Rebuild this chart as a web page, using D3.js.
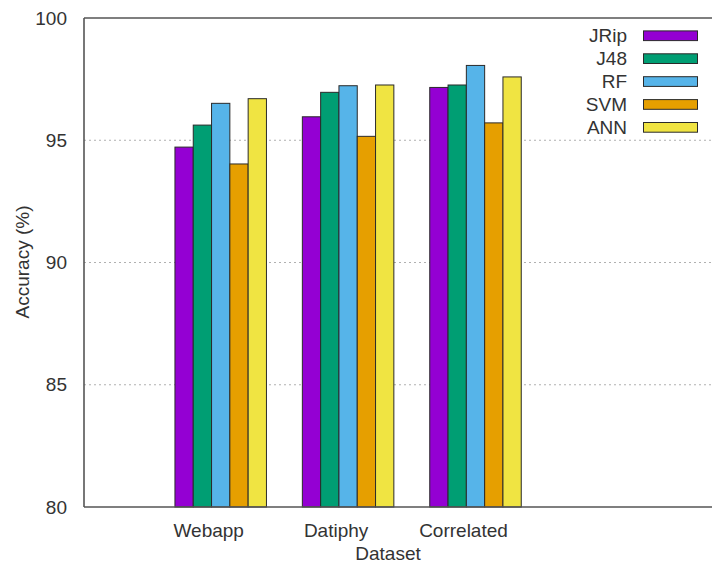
<!DOCTYPE html>
<html>
<head>
<meta charset="utf-8">
<script src="https://cdn.jsdelivr.net/npm/d3@7"></script>
<style>
  html, body { margin: 0; padding: 0; background: #fff; }
  svg { display: block; }
  text { font-family: "Liberation Sans", Arial, sans-serif; fill: #333; }
</style>
</head>
<body>
<svg id="chart" width="712" height="566"></svg>
<script>
const categories = ["Webapp", "Datiphy", "Correlated"];
const seriesNames = ["JRip", "J48", "RF", "SVM", "ANN"];
const seriesColors = ["#9400d3", "#009e73", "#56b4e9", "#e69f00", "#f0e442"];
const JRip = [94.72, 95.96, 97.16];
const J48  = [95.62, 96.96, 97.26];
const RF   = [96.51, 97.23, 98.06];
const SVM  = [94.03, 95.16, 95.71];
const ANN  = [96.70, 97.26, 97.59];
const yTicks = [80, 85, 90, 95, 100];
const gridTicks = [85, 90, 95];

const values = [JRip, J48, RF, SVM, ANN];

const svg = d3.select("#chart");
const mLeft = 84, mTop = 18, mBottom = 507, mRight = 712;

const y = d3.scaleLinear().domain([80, 100]).range([mBottom, mTop]);
const x = d3.scaleLinear().domain([0, 2]).range([220.7, 475.5]);
const inner = d3.scaleBand().domain(seriesNames).range([-45.75, 45.75]).padding(0);

// grid lines
svg.append("g").selectAll("line").data(gridTicks).join("line")
  .attr("x1", mLeft).attr("x2", mRight)
  .attr("y1", d => y(d)).attr("y2", d => y(d))
  .attr("stroke", "#b0b0b0").attr("stroke-width", 1)
  .attr("stroke-dasharray", "2,3");

// bars
const bars = [];
seriesNames.forEach((s, si) => {
  categories.forEach((c, ci) => {
    bars.push({ s, si, ci, v: values[si][ci] });
  });
});
svg.append("g").selectAll("rect").data(bars).join("rect")
  .attr("x", d => x(d.ci) + inner(d.s))
  .attr("width", inner.bandwidth())
  .attr("y", d => y(d.v))
  .attr("height", d => y(80) - y(d.v))
  .attr("fill", d => seriesColors[d.si])
  .attr("stroke", "#2a2a2a").attr("stroke-width", 1);

// frame
const frame = svg.append("g").attr("stroke", "#555").attr("stroke-width", 1.6).attr("fill", "none");
frame.append("line").attr("x1", mLeft).attr("x2", mLeft).attr("y1", mTop).attr("y2", mBottom);
frame.append("line").attr("x1", mLeft).attr("x2", mRight).attr("y1", mTop).attr("y2", mTop);
frame.append("line").attr("x1", mLeft).attr("x2", mRight).attr("y1", mBottom).attr("y2", mBottom);

// y tick labels
svg.append("g").selectAll("text").data(yTicks).join("text")
  .attr("x", 67).attr("y", d => y(d))
  .attr("dy", "0.35em")
  .attr("text-anchor", "end")
  .style("font-size", "19px")
  .text(d => d);

// x tick labels
svg.append("g").selectAll("text").data(categories).join("text")
  .attr("x", (d, i) => x(i) - 12)
  .attr("y", 530).attr("dy", "0.35em")
  .attr("text-anchor", "middle")
  .style("font-size", "19px")
  .text(d => d);

// axis titles
svg.append("text")
  .attr("transform", "translate(22,262) rotate(-90)")
  .attr("dy", "0.35em")
  .attr("text-anchor", "middle")
  .style("font-size", "19px")
  .text("Accuracy (%)");
svg.append("text")
  .attr("x", 388).attr("y", 553).attr("dy", "0.35em")
  .attr("text-anchor", "middle")
  .style("font-size", "19px")
  .text("Dataset");

// legend
const legend = svg.append("g");
const rowY = d3.scaleLinear().domain([0, 4]).range([35.7, 127.3]);
seriesNames.forEach((s, i) => {
  legend.append("text")
    .attr("x", 627).attr("y", rowY(i)).attr("dy", "0.35em")
    .attr("text-anchor", "end")
    .style("font-size", "19px")
    .text(s);
  legend.append("rect")
    .attr("x", 643.5).attr("y", rowY(i) - 4.8)
    .attr("width", 54).attr("height", 9.7)
    .attr("fill", seriesColors[i])
    .attr("stroke", "#2a2a2a").attr("stroke-width", 1);
});
</script>
</body>
</html>
